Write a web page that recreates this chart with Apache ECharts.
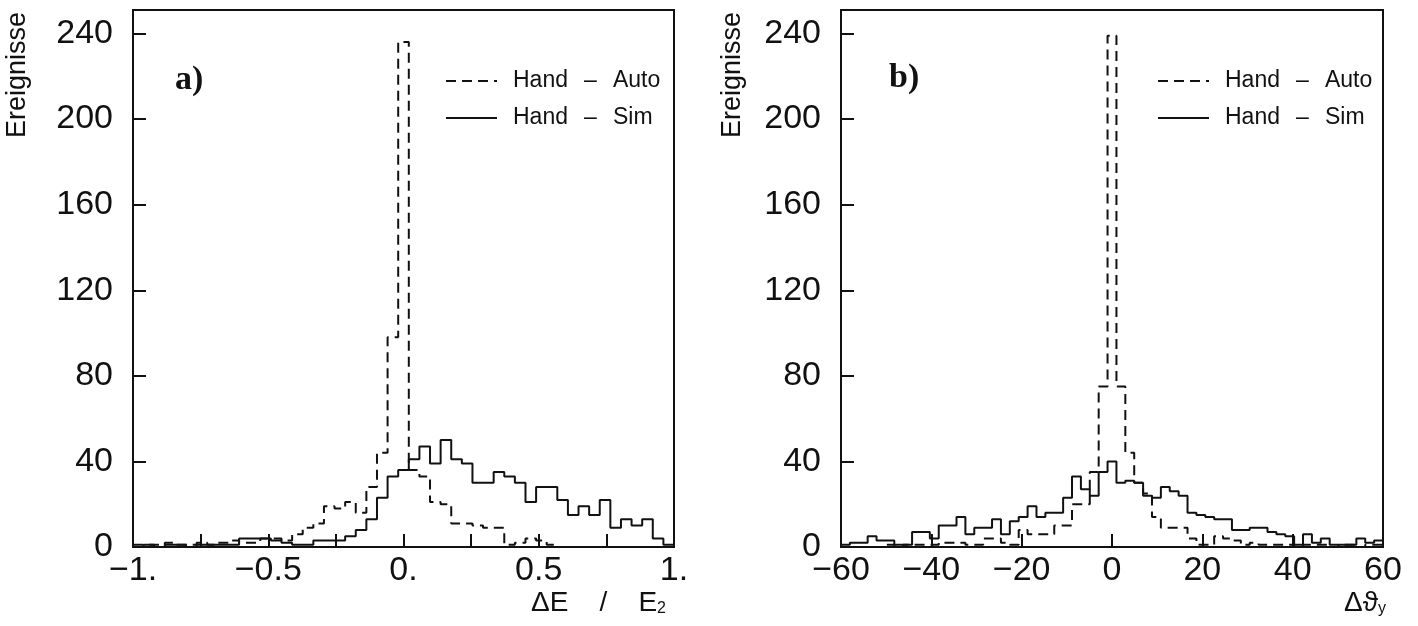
<!DOCTYPE html>
<html><head><meta charset="utf-8">
<script src="https://cdn.jsdelivr.net/npm/echarts@6/dist/echarts.min.js"></script>
<style>html,body{margin:0;padding:0;background:#fff}#c{width:1418px;height:626px}</style>
</head><body><div id="c"></div>
<script>
// ---------------- data ----------------
// panel a) ΔE/E2 : 51 equal bins over [-1, 1]
const rangeA = [-1, 1];
const handAutoA = [1,1,1,2,1,1,2,1,2,3,2,2,4,4,3,6,9,11,19,18,21,16,28,44,98,
  236,
  36,33,21,20,11,11,10,9,9,1,2,4,3,1,0,0,0,0,0,0,0,0,0,0,0];
const handSimA = [0,1,0,1,1,0,1,1,1,1,4,4,4,3,2,1,1,3,3,3,5,8,13,23,33,
  36,
  41,47,39,50,41,39,30,30,35,33,30,21,28,28,22,15,19,15,22,9,13,10,13,4,1];
// panel b) Δϑy : 61 equal bins over [-60, 60]
const rangeB = [-60, 60];
const handAutoB = [0,0,0,0,0,1,0,1,1,1,1,2,2,2,1,1,4,4,2,1,8,6,6,6,10,10,20,20,35,75,
  239,
  75,44,30,25,14,9,9,9,4,1,1,5,4,3,1,2,1,1,1,1,0,1,1,1,0,1,1,0,1,1];
const handSimB = [1,2,2,5,3,3,1,1,7,7,4,10,10,14,6,9,9,13,6,12,14,19,14,16,16,23,33,27,24,35,
  40,
  30,31,30,24,23,28,26,24,16,15,14,13,13,8,8,9,9,7,6,5,1,6,2,4,1,1,1,4,2,3];

const yTickValues = [0, 40, 80, 120, 160, 200, 240];
const xLabelValuesA = [-1, -0.5, 0, 0.5, 1];
const xLabelTextA = ['\u22121.', '\u22120.5', '0.', '0.5', '1.'];
const xTickValuesA = [-1, -0.75, -0.5, -0.25, 0, 0.25, 0.5, 0.75, 1];
const xLabelValuesB = [-60, -40, -20, 0, 20, 40, 60];
const xLabelTextB = ['\u221260', '\u221240', '\u221220', '0', '20', '40', '60'];
const seriesNames = ['Hand \u2013 Auto', 'Hand \u2013 Sim'];

// --------------- helpers ---------------
function histPoints(vals, range) {
  const n = vals.length, w = (range[1] - range[0]) / n;
  const pts = [[range[0], vals[0]]];
  vals.forEach((v, i) => pts.push([range[0] + (i + 0.5) * w, v]));
  pts.push([range[1], vals[n - 1]]);
  return pts;
}
const FONT = 'Liberation Sans';
const black = '#111';

function yAxis(gi) {
  return {
    type: 'value', gridIndex: gi, min: 0, max: 251,
    splitLine: { show: false },
    axisLine: { show: false, onZero: false },
    axisTick: { show: true, inside: true, length: 13, customValues: yTickValues,
      lineStyle: { color: black, width: 2 } },
    axisLabel: { customValues: yTickValues, margin: 20, color: black,
      fontFamily: FONT, fontSize: 34 }
  };
}
function xAxis(gi, range, labVals, labText, tickVals) {
  return {
    type: 'value', gridIndex: gi, min: range[0], max: range[1],
    splitLine: { show: false },
    axisLine: { show: false, onZero: false },
    axisTick: { show: true, inside: true, length: 13, customValues: tickVals,
      lineStyle: { color: black, width: 2 } },
    axisLabel: { customValues: labVals, margin: 7, color: black,
      fontFamily: FONT, fontSize: 34,
      formatter: v => { const i = labVals.findIndex(x => Math.abs(x - v) < 1e-9); return i >= 0 ? labText[i] : ''; } }
  };
}
function series(name, vals, range, gi, dashed) {
  return {
    type: 'line', name: name, xAxisIndex: gi, yAxisIndex: gi,
    data: histPoints(vals, range), step: 'middle', symbol: 'none',
    lineStyle: { color: black, width: 2, type: dashed ? [10, 6] : 'solid' },
    itemStyle: { color: black }, silent: true, animation: false
  };
}
const GAP = '\u2002\u2009';
function legend(left) {
  return {
    left: left, top: 64, orient: 'vertical', itemWidth: 51, itemHeight: 14, itemGap: 13,
    data: seriesNames, selectedMode: false,
    itemStyle: { opacity: 0, borderWidth: 0 },
    formatter: n => n.replace(' \u2013 ', GAP + '\u2013' + GAP),
    textStyle: { fontFamily: FONT, fontSize: 23, color: black, lineHeight: 24, padding: [0, 0, 0, 11] }
  };
}

const chart = echarts.init(document.getElementById('c'), null, { renderer: 'canvas' });
chart.setOption({
  backgroundColor: '#fff',
  animation: false,
  grid: [
    { left: 133, top: 10, width: 541, height: 537, show: true, borderColor: black, borderWidth: 2 },
    { left: 841, top: 10, width: 542, height: 537, show: true, borderColor: black, borderWidth: 2 }
  ],
  xAxis: [
    xAxis(0, rangeA, xLabelValuesA, xLabelTextA, xTickValuesA),
    xAxis(1, rangeB, xLabelValuesB, xLabelTextB, xLabelValuesB)
  ],
  yAxis: [yAxis(0), yAxis(1)],
  legend: [legend(440), legend(1152)],
  series: [
    series(seriesNames[0], handAutoA, rangeA, 0, true),
    series(seriesNames[1], handSimA, rangeA, 0, false),
    series(seriesNames[0], handAutoB, rangeB, 1, true),
    series(seriesNames[1], handSimB, rangeB, 1, false)
  ],
  graphic: [
    { type: 'text', x: 18, y: 12, rotation: Math.PI / 2,
      style: { text: 'Ereignisse', align: 'right', verticalAlign: 'middle', fill: black, font: '27px "Liberation Sans"' } },
    { type: 'text', x: 733, y: 12, rotation: Math.PI / 2,
      style: { text: 'Ereignisse', align: 'right', verticalAlign: 'middle', fill: black, font: '27px "Liberation Sans"' } },
    { type: 'text', x: 175, y: 80,
      style: { text: 'a)', align: 'left', verticalAlign: 'middle', fill: black, font: 'bold 34px "Liberation Serif"' } },
    { type: 'text', x: 889, y: 78,
      style: { text: 'b)', align: 'left', verticalAlign: 'middle', fill: black, font: 'bold 34px "Liberation Serif"' } },
    { type: 'text', x: 666, y: 603,
      style: { text: '\u0394E    /    E{s|2}', align: 'right', verticalAlign: 'middle', fill: black,
        font: '28px "Liberation Sans"', rich: { s: { fontSize: 16, fontFamily: FONT, verticalAlign: 'bottom', padding: [12, 0, 0, 0] } } } },
    { type: 'text', x: 1386, y: 603,
      style: { text: '\u0394\u03d1{s|y}', align: 'right', verticalAlign: 'middle', fill: black,
        font: '28px "Liberation Sans"', rich: { s: { fontSize: 16, fontFamily: FONT, verticalAlign: 'bottom', padding: [12, 0, 0, 0] } } } }
  ]
});
</script>
</body></html>
